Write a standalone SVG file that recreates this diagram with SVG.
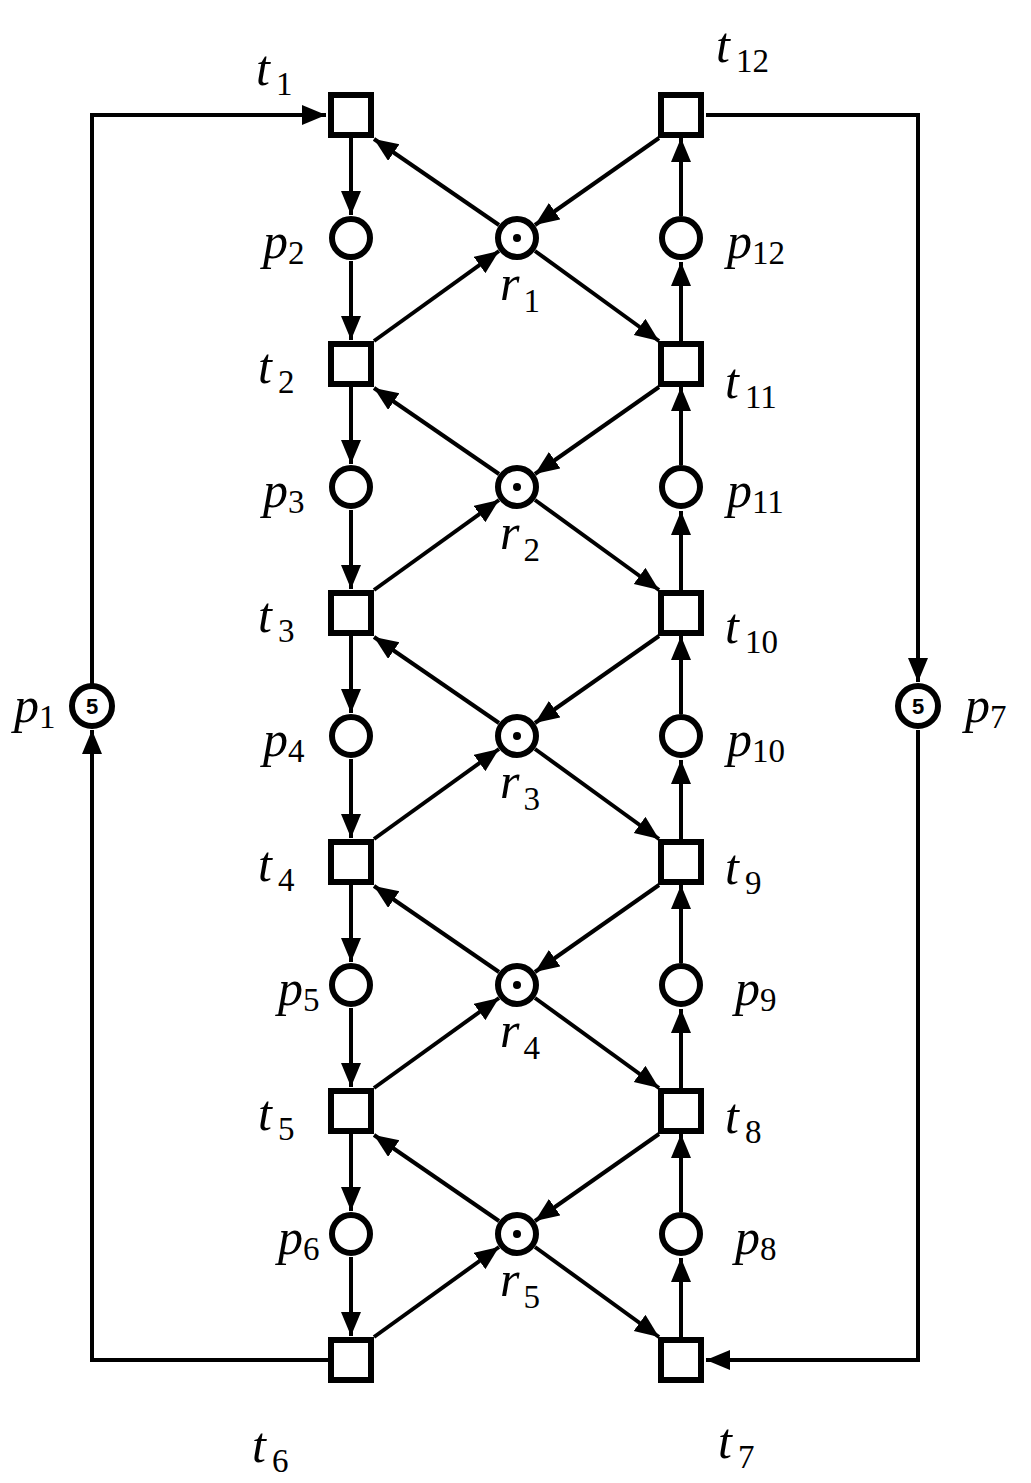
<svg xmlns="http://www.w3.org/2000/svg" width="1031" height="1483" viewBox="0 0 1031 1483">
<defs>
<marker id="ah" markerUnits="userSpaceOnUse" markerWidth="26" markerHeight="22" refX="24" refY="10" orient="auto"><path d="M0,0 L24,10 L0,20 Z" fill="#000"/></marker>
<style>
.t{fill:#fff;stroke:#000;stroke-width:6}
.p{fill:#fff;stroke:#000;stroke-width:6}
.c line,.c polyline{stroke:#000;stroke-width:4;fill:none;marker-end:url(#ah)}
.l{font-family:"Liberation Serif","Times New Roman",serif;font-size:50px;font-style:italic}
.l tspan{font-style:normal;font-size:33px}
.n{font-family:"Liberation Sans",sans-serif;font-size:22px;font-weight:bold;text-anchor:middle}
</style>
</defs>
<g class="c" id="connectors">
<polyline points="328,1360 92,1360 92,730"/>
<polyline points="92,684 92,115 326,115"/>
<polyline points="706,115 918,115 918,682"/>
<polyline points="918,730 918,1360 706,1360"/>
<line x1="351" y1="138" x2="351" y2="215"/><line x1="351" y1="261" x2="351" y2="340"/>
<line x1="351" y1="387" x2="351" y2="464"/><line x1="351" y1="510" x2="351" y2="589"/>
<line x1="351" y1="636" x2="351" y2="713"/><line x1="351" y1="759" x2="351" y2="838"/>
<line x1="351" y1="885" x2="351" y2="962"/><line x1="351" y1="1008" x2="351" y2="1087"/>
<line x1="351" y1="1134" x2="351" y2="1211"/><line x1="351" y1="1257" x2="351" y2="1336"/>
<line x1="681" y1="1337" x2="681" y2="1258"/><line x1="681" y1="1212" x2="681" y2="1134"/>
<line x1="681" y1="1088" x2="681" y2="1009"/><line x1="681" y1="963" x2="681" y2="885"/>
<line x1="681" y1="839" x2="681" y2="760"/><line x1="681" y1="714" x2="681" y2="636"/>
<line x1="681" y1="590" x2="681" y2="511"/><line x1="681" y1="465" x2="681" y2="387"/>
<line x1="681" y1="341" x2="681" y2="262"/><line x1="681" y1="216" x2="681" y2="138"/>
<line x1="499" y1="225" x2="374" y2="139"/><line x1="374" y1="341" x2="499" y2="251"/><line x1="659" y1="138" x2="535" y2="225"/><line x1="535" y1="251" x2="659" y2="341"/>
<line x1="499" y1="474" x2="374" y2="388"/><line x1="374" y1="590" x2="499" y2="500"/><line x1="659" y1="387" x2="535" y2="474"/><line x1="535" y1="500" x2="659" y2="590"/>
<line x1="499" y1="723" x2="374" y2="637"/><line x1="374" y1="839" x2="499" y2="749"/><line x1="659" y1="636" x2="535" y2="723"/><line x1="535" y1="749" x2="659" y2="839"/>
<line x1="499" y1="972" x2="374" y2="886"/><line x1="374" y1="1088" x2="499" y2="998"/><line x1="659" y1="885" x2="535" y2="972"/><line x1="535" y1="998" x2="659" y2="1088"/>
<line x1="499" y1="1221" x2="374" y2="1135"/><line x1="374" y1="1337" x2="499" y2="1247"/><line x1="659" y1="1134" x2="535" y2="1221"/><line x1="535" y1="1247" x2="659" y2="1337"/>
</g>
<g id="t1"><rect class="t" x="331" y="95" width="40" height="40"/><text class="l" x="256" y="85">t<tspan dx="6" dy="10">1</tspan></text></g>
<g id="t2"><rect class="t" x="331" y="344" width="40" height="40"/><text class="l" x="258" y="383">t<tspan dx="6" dy="10">2</tspan></text></g>
<g id="t3"><rect class="t" x="331" y="593" width="40" height="40"/><text class="l" x="258" y="632">t<tspan dx="6" dy="10">3</tspan></text></g>
<g id="t4"><rect class="t" x="331" y="842" width="40" height="40"/><text class="l" x="258" y="881">t<tspan dx="6" dy="10">4</tspan></text></g>
<g id="t5"><rect class="t" x="331" y="1091" width="40" height="40"/><text class="l" x="258" y="1130">t<tspan dx="6" dy="10">5</tspan></text></g>
<g id="t6"><rect class="t" x="331" y="1340" width="40" height="40"/><text class="l" x="252" y="1462">t<tspan dx="6" dy="10">6</tspan></text></g>
<g id="t12"><rect class="t" x="661" y="95" width="40" height="40"/><text class="l" x="716" y="62">t<tspan dx="6" dy="10">12</tspan></text></g>
<g id="t11"><rect class="t" x="661" y="344" width="40" height="40"/><text class="l" x="725" y="398">t<tspan dx="6" dy="10">11</tspan></text></g>
<g id="t10"><rect class="t" x="661" y="593" width="40" height="40"/><text class="l" x="725" y="643">t<tspan dx="6" dy="10">10</tspan></text></g>
<g id="t9"><rect class="t" x="661" y="842" width="40" height="40"/><text class="l" x="725" y="884">t<tspan dx="6" dy="10">9</tspan></text></g>
<g id="t8"><rect class="t" x="661" y="1091" width="40" height="40"/><text class="l" x="725" y="1133">t<tspan dx="6" dy="10">8</tspan></text></g>
<g id="t7"><rect class="t" x="661" y="1340" width="40" height="40"/><text class="l" x="718" y="1458">t<tspan dx="6" dy="10">7</tspan></text></g>
<g id="p1"><circle class="p" cx="92" cy="706" r="20"/><text class="n" x="92" y="714">5</text><text class="l" x="14" y="722">p<tspan dy="6">1</tspan></text></g>
<g id="p7"><circle class="p" cx="918" cy="706" r="20"/><text class="n" x="918" y="714">5</text><text class="l" x="965" y="722">p<tspan dy="6">7</tspan></text></g>
<g id="p2"><circle class="p" cx="351" cy="238" r="19"/><text class="l" x="263" y="258">p<tspan dy="6">2</tspan></text></g>
<g id="p3"><circle class="p" cx="351" cy="487" r="19"/><text class="l" x="263" y="507">p<tspan dy="6">3</tspan></text></g>
<g id="p4"><circle class="p" cx="351" cy="736" r="19"/><text class="l" x="263" y="756">p<tspan dy="6">4</tspan></text></g>
<g id="p5"><circle class="p" cx="351" cy="985" r="19"/><text class="l" x="278" y="1005">p<tspan dy="6">5</tspan></text></g>
<g id="p6"><circle class="p" cx="351" cy="1234" r="19"/><text class="l" x="278" y="1254">p<tspan dy="6">6</tspan></text></g>
<g id="p12"><circle class="p" cx="681" cy="238" r="19"/><text class="l" x="727" y="258">p<tspan dy="6">12</tspan></text></g>
<g id="p11"><circle class="p" cx="681" cy="487" r="19"/><text class="l" x="727" y="507">p<tspan dy="6">11</tspan></text></g>
<g id="p10"><circle class="p" cx="681" cy="736" r="19"/><text class="l" x="727" y="756">p<tspan dy="6">10</tspan></text></g>
<g id="p9"><circle class="p" cx="681" cy="985" r="19"/><text class="l" x="735" y="1005">p<tspan dy="6">9</tspan></text></g>
<g id="p8"><circle class="p" cx="681" cy="1234" r="19"/><text class="l" x="735" y="1254">p<tspan dy="6">8</tspan></text></g>
<g id="r1"><circle class="p" cx="517" cy="238" r="19"/><circle cx="517" cy="238" r="4"/><text class="l" x="500" y="300">r<tspan dx="4" dy="12">1</tspan></text></g>
<g id="r2"><circle class="p" cx="517" cy="487" r="19"/><circle cx="517" cy="487" r="4"/><text class="l" x="500" y="549">r<tspan dx="4" dy="12">2</tspan></text></g>
<g id="r3"><circle class="p" cx="517" cy="736" r="19"/><circle cx="517" cy="736" r="4"/><text class="l" x="500" y="798">r<tspan dx="4" dy="12">3</tspan></text></g>
<g id="r4"><circle class="p" cx="517" cy="985" r="19"/><circle cx="517" cy="985" r="4"/><text class="l" x="500" y="1047">r<tspan dx="4" dy="12">4</tspan></text></g>
<g id="r5"><circle class="p" cx="517" cy="1234" r="19"/><circle cx="517" cy="1234" r="4"/><text class="l" x="500" y="1296">r<tspan dx="4" dy="12">5</tspan></text></g>
</svg>
